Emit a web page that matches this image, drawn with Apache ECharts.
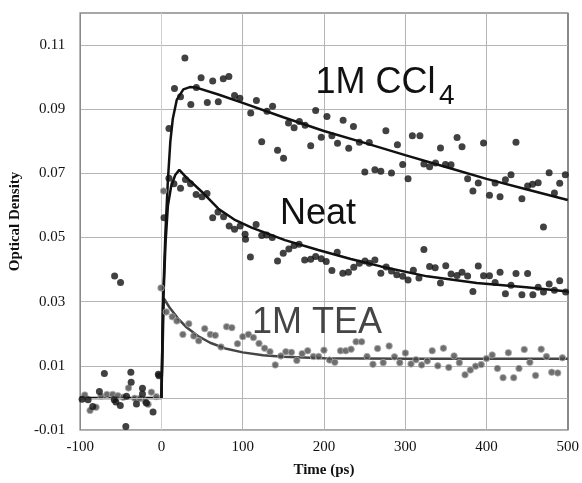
<!DOCTYPE html>
<html><head><meta charset="utf-8">
<script src="https://cdn.jsdelivr.net/npm/echarts@6/dist/echarts.min.js"></script>
<style>html,body{margin:0;padding:0;background:#fff}#c{width:582px;height:483px}</style>
</head><body><div id="c"></div>
<script>
// ---- data ----
var xTicks = [-100, 0, 100, 200, 300, 400, 500];
var yLabels = ['-0.01', '0.01', '0.03', '0.05', '0.07', '0.09', '0.11'];

var blackPre = [[-97.6,-0.0004],[-90.2,-0.0006],[-84.5,-0.0027],[-76.3,0.002],[-70.2,0.0076],[-58,-0.0006],[-56,-0.0013],[-50.6,-0.0024],[-43.8,-0.0089],[-42.9,0.0005],[-37.6,0.008],[-37.2,0.0049],[-30.7,-0.0019],[-23.3,0.003],[-23.3,0.0012],[-18.5,-0.0016],[-10.3,-0.0044],[-3.8,0.0074],[-2.9,0.0069],[-57.6,0.038],[-50.3,0.036]];

var ccl4 = [[9.3,0.084],[16.1,0.0965],[23.5,0.0939],[28.9,0.106],[36.2,0.0915],[43,0.0968],[48.8,0.0998],[56.5,0.0921],[63.1,0.0988],[70,0.0923],[76.1,0.0995],[83,0.1002],[90,0.0943],[96.5,0.0934],[109.9,0.0888],[116.9,0.0927],[123.4,0.0799],[129.9,0.0894],[136.8,0.0909],[142.9,0.0772],[150.3,0.0747],[156.4,0.0857],[163.3,0.0842],[169.8,0.0862],[176.8,0.085],[183.7,0.0786],[189.8,0.0896],[196.7,0.0813],[203.7,0.0877],[209.8,0.0817],[216.7,0.0794],[223.6,0.0866],[230.5,0.0778],[236.3,0.0846],[243.6,0.0797],[250.3,0.0704],[255.8,0.0796],[262.7,0.0711],[270,0.0707],[276.2,0.0833],[283.1,0.0701],[290.4,0.0789],[296.9,0.0728],[303.5,0.0683],[308.8,0.0817],[318.1,0.0817],[323,0.0729],[330,0.0721],[337.3,0.0732],[343.4,0.0779],[349.5,0.0728],[356.4,0.0727],[363.8,0.0812],[369.9,0.0783],[376.8,0.0683],[383.3,0.0645],[389.9,0.067],[396.4,0.0795],[403.7,0.0632],[410.6,0.067],[416.7,0.0627],[423.3,0.068],[430.2,0.0696],[436.3,0.0797],[443.6,0.0621],[450.6,0.0661],[456.7,0.0666],[463.6,0.0671],[470.1,0.0533],[477.1,0.0702],[483.6,0.0639],[490.1,0.0669],[497,0.0696]];

var neat = [[3.2,0.0562],[9.3,0.0685],[15.4,0.0668],[23.5,0.0654],[29.6,0.0681],[35.8,0.0668],[42.7,0.0634],[50,0.0627],[56.1,0.0637],[63.1,0.0562],[69.6,0.058],[76.5,0.0565],[83.4,0.0536],[90,0.0526],[96.9,0.0536],[103,0.051],[103.5,0.0495],[109.5,0.0439],[116.5,0.0541],[123.4,0.0506],[129.5,0.0508],[136.4,0.05],[142.9,0.0427],[149.9,0.0451],[156.8,0.0464],[163.3,0.0475],[169.4,0.0479],[176.3,0.043],[183.7,0.0432],[189.8,0.0441],[196.7,0.0434],[202.8,0.0425],[209.8,0.0397],[216.3,0.0454],[223.2,0.0389],[230.1,0.0392],[236.7,0.0407],[243.6,0.042],[250.5,0.0427],[255.8,0.042],[262.7,0.043],[270,0.0389],[276.6,0.0408],[283.1,0.0396],[289.6,0.0384],[296.9,0.0379],[303.5,0.0368],[310,0.0398],[316.9,0.0374],[323,0.0463],[330,0.041],[336.9,0.0406],[343.4,0.0358],[349.9,0.0412],[356.4,0.0386],[363.8,0.0382],[369.9,0.0392],[376.8,0.038],[383.3,0.0332],[389.9,0.0411],[396.4,0.0381],[403.7,0.0381],[410.6,0.036],[416.7,0.0392],[423.3,0.0325],[430.2,0.0351],[436.3,0.0388],[443.6,0.0322],[450.6,0.0388],[457.1,0.0322],[463.6,0.0345],[470.1,0.033],[477.1,0.0355],[483.6,0.0336],[490.1,0.0365],[497.4,0.033]];

var tea = [[-94.3,0.0009],[-87.8,-0.0039],[-80.4,-0.0029],[-74.3,0.0005],[-67,0.0011],[-60,0.0011],[-53.5,0.0007],[-47,0.0002],[-40.5,0.0031],[-32.8,-0.0001],[-26.6,-0.0002],[-20,-0.001],[-16.4,-0.002],[-12.3,0.0018],[-6.2,0.0004],[-0.5,0.0343],[2.7,0.0645],[6,0.0268],[13.3,0.0253],[19,0.024],[26.4,0.0198],[33.7,0.0231],[39.8,0.0193],[45.9,0.0178],[53.3,0.0216],[60.2,0.0198],[66.3,0.0195],[73.3,0.0159],[80.2,0.0222],[86.7,0.0219],[93.6,0.0169],[100.1,0.0191],[107.1,0.0198],[113.2,0.0188],[120.1,0.017],[127,0.0155],[133.6,0.0144],[140.1,0.0103],[147,0.0131],[153.1,0.0144],[160,0.0142],[166.6,0.0117],[173.1,0.0138],[180,0.0147],[187,0.0129],[193.5,0.0129],[200,0.0149],[206.9,0.0118],[213.4,0.0111],[220.4,0.0147],[226.9,0.0147],[233.4,0.0152],[239.5,0.0175],[246.4,0.0175],[253,0.0129],[260.3,0.0105],[266,0.0154],[272.9,0.011],[280.2,0.0162],[286.8,0.0128],[293.3,0.011],[300.2,0.014],[307.1,0.0106],[313.2,0.0119],[320.2,0.0103],[327.1,0.0115],[333.2,0.0147],[340.1,0.01],[347,0.0155],[353.6,0.0095],[360.1,0.0131],[366.6,0.011],[373.6,0.0072],[380.1,0.0087],[386.6,0.0099],[393.5,0.0104],[400,0.0123],[407,0.0134],[413.5,0.0092],[420.4,0.0063],[426.9,0.0141],[433.5,0.0063],[440,0.0092],[446.5,0.0151],[453.4,0.0111],[460.4,0.007],[467.3,0.0152],[473.8,0.0129],[480.3,0.008],[487.7,0.0078],[493.4,0.0125]];

var ccl4Fit = [[-100,0],[0,0],[2,0.03],[5,0.052],[8,0.068],[11,0.08],[14,0.087],[19,0.093],[27,0.0962],[35,0.0969],[42,0.0968],[70,0.0946],[100,0.092],[150,0.0875],[200,0.0832],[250,0.0795],[300,0.0757],[350,0.072],[400,0.0683],[450,0.065],[500,0.0617]];
var neatFit = [[0,0],[2,0.028],[5,0.048],[8,0.06],[12,0.066],[17,0.0695],[22,0.0711],[30,0.0689],[50,0.0642],[70,0.059],[91,0.0554],[111,0.0531],[152,0.0492],[193,0.0461],[233,0.0433],[270,0.041],[327,0.0379],[388,0.0358],[449,0.0345],[500,0.0332]];
var teaFit = [[0,0],[3,0.031],[10,0.0282],[20,0.0249],[30,0.0222],[45,0.0193],[60,0.0172],[80,0.0153],[100,0.0142],[125,0.0133],[150,0.0128],[200,0.0124],[300,0.0122],[500,0.0122]];

// ---- chart ----
var chart = echarts.init(document.getElementById('c'), null, {renderer: 'canvas'});
var serif = '"Liberation Serif", "Times New Roman", serif';
var sans = '"Liberation Sans", Arial, sans-serif';

var option = {
  animation: false,
  backgroundColor: '#fff',
  grid: {left: 77, right: 14, top: 13, bottom: 50, show: true, borderColor: '#8a8a8a', borderWidth: 1.5},
  xAxis: {
    type: 'value', min: xTicks[0], max: xTicks[xTicks.length - 1], interval: 100,
    axisLine: {show: false}, axisTick: {show: false},
    axisLabel: {color: '#111', fontFamily: serif, fontSize: 15, margin: 10},
    splitLine: {show: true, lineStyle: {color: ['#8a8a8a', '#cfcfcf', '#b5b5b5', '#b5b5b5', '#b5b5b5', '#b5b5b5', '#8a8a8a'], width: 1}},
    name: 'Time (ps)', nameLocation: 'middle', nameGap: 33,
    nameTextStyle: {color: '#111', fontFamily: serif, fontSize: 15, fontWeight: 'bold'}
  },
  yAxis: {
    type: 'value', min: -0.01, max: 0.12, interval: 0.01,
    axisLine: {show: false}, axisTick: {show: false},
    axisLabel: {color: '#111', fontFamily: serif, fontSize: 15, margin: 15,
      formatter: function (v) {
        var s = (Math.round(v * 100) / 100).toFixed(2);
        return yLabels.indexOf(s) >= 0 ? s : '';
      }},
    splitLine: {show: true, lineStyle: {color: ['#b5b5b5', 'rgba(0,0,0,0)'], width: 1}},
    name: 'Optical Density', nameLocation: 'middle', nameGap: 51,
    nameTextStyle: {color: '#111', fontFamily: serif, fontSize: 15, fontWeight: 'bold'}
  },
  series: [
    {type: 'line', data: teaFit, showSymbol: false, symbol: 'none', z: 2,
     lineStyle: {color: '#454545', width: 2.5},
     markLine: {silent: true, symbol: 'none', label: {show: false},
       lineStyle: {color: '#b5b5b5', width: 1, type: 'solid'}, data: [{yAxis: 0}]}},
    {type: 'line', data: ccl4Fit, showSymbol: false, symbol: 'none', z: 3,
     lineStyle: {color: '#111', width: 2.5}},
    {type: 'line', data: neatFit, showSymbol: false, symbol: 'none', z: 3,
     lineStyle: {color: '#111', width: 2.5}},
    {type: 'scatter', data: tea, symbolSize: 6.5, z: 4,
     itemStyle: {color: '#4a4a4a', borderColor: '#b0b0b0', borderWidth: 1}},
    {type: 'scatter', data: blackPre, symbolSize: 7, z: 5, itemStyle: {color: '#111'}},
    {type: 'scatter', data: ccl4, symbolSize: 7, z: 5, itemStyle: {color: '#111'}},
    {type: 'scatter', data: neat, symbolSize: 7, z: 5, itemStyle: {color: '#111'}}
  ],
  graphic: [
    {type: 'text', x: 315.5, y: 83, z: 10, style: {text: '1M CCl', font: '36px ' + sans, fill: '#111', verticalAlign: 'middle', align: 'left'}},
    {type: 'text', x: 439, y: 96, z: 10, style: {text: '4', font: '28px ' + sans, fill: '#111', verticalAlign: 'middle', align: 'left'}},
    {type: 'text', x: 280, y: 214.5, z: 10, style: {text: 'Neat', font: '36px ' + sans, fill: '#111', verticalAlign: 'middle', align: 'left'}},
    {type: 'text', x: 252, y: 323, z: 10, style: {text: '1M TEA', font: '36px ' + sans, fill: '#454545', verticalAlign: 'middle', align: 'left'}}
  ]
};
chart.setOption(option);
</script>
</body></html>
